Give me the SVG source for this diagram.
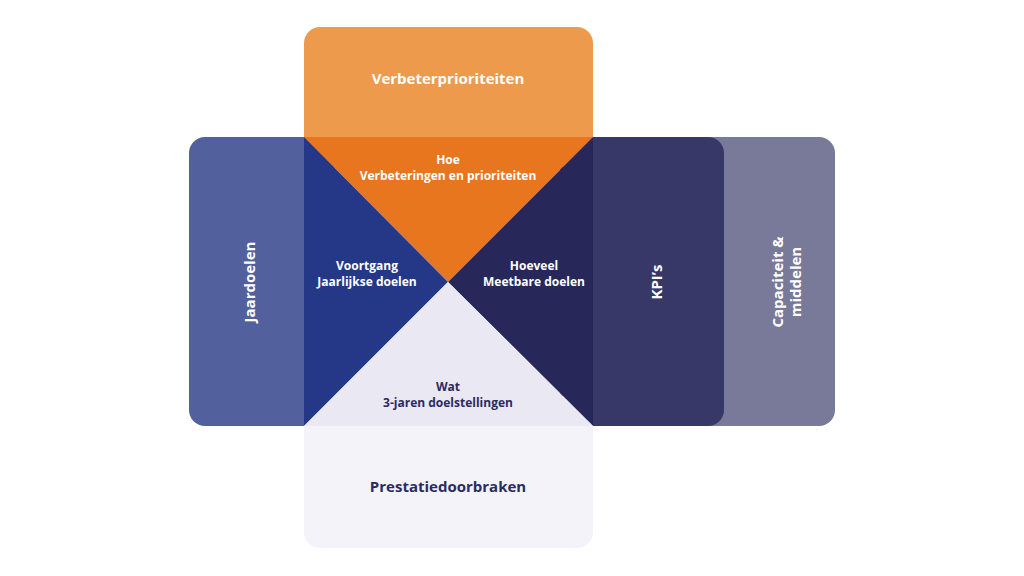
<svg xmlns="http://www.w3.org/2000/svg" width="1024" height="576" viewBox="0 0 1024 576">
<style>
text{font-family:"Open Sans","Noto Sans",sans-serif;font-weight:bold;text-anchor:middle}
.w{fill:#ffffff}.d{fill:#2b2b62}
.s{font-size:12px}.l{font-size:15px}
</style>
<rect width="1024" height="576" fill="#ffffff"/>
<g id="capaciteit"><rect x="680" y="137" width="155" height="289" rx="16" fill="#797999"/>
<text class="w l" transform="translate(786,282) rotate(-90)"><tspan x="0" y="-3">Capaciteit &amp;</tspan><tspan x="0" y="15">middelen</tspan></text></g>
<g id="kpis"><rect x="560" y="137" width="164" height="289" rx="16" fill="#383868"/>
<text class="w l" transform="translate(657,282) rotate(-90)" y="5">KPI’s</text></g>
<g id="jaardoelen"><rect x="189" y="137" width="140" height="289" rx="16" fill="#52609e"/>
<text class="w l" transform="translate(250,282) rotate(-90)" y="5">Jaardoelen</text></g>
<g id="verbeterprioriteiten"><rect x="304" y="27" width="289" height="140" rx="16" fill="#ee9a4d"/>
<text class="w l" x="448" y="84">Verbeterprioriteiten</text></g>
<g id="prestatiedoorbraken"><rect x="304" y="396" width="289" height="152" rx="16" fill="#f4f3fa"/>
<text class="d l" x="448" y="492">Prestatiedoorbraken</text></g>
<g id="hoe"><polygon points="304,137 593,137 448,282" fill="#e8761e"/>
<text class="w s"><tspan x="448" y="164">Hoe</tspan><tspan x="448" y="180">Verbeteringen en prioriteiten</tspan></text></g>
<g id="voortgang"><polygon points="304,137 304,426 448,282" fill="#253887"/>
<text class="w s"><tspan x="367" y="270">Voortgang</tspan><tspan x="367" y="286">Jaarlijkse doelen</tspan></text></g>
<g id="hoeveel"><polygon points="593,137 593,426 448,282" fill="#27275a"/>
<text class="w s"><tspan x="534" y="270">Hoeveel</tspan><tspan x="534" y="286">Meetbare doelen</tspan></text></g>
<g id="wat"><polygon points="304,426 593,426 448,282" fill="#e9e8f3"/>
<text class="d s"><tspan x="448" y="391">Wat</tspan><tspan x="448" y="407">3-jaren doelstellingen</tspan></text></g>
<g id="connectors"/>
</svg>
